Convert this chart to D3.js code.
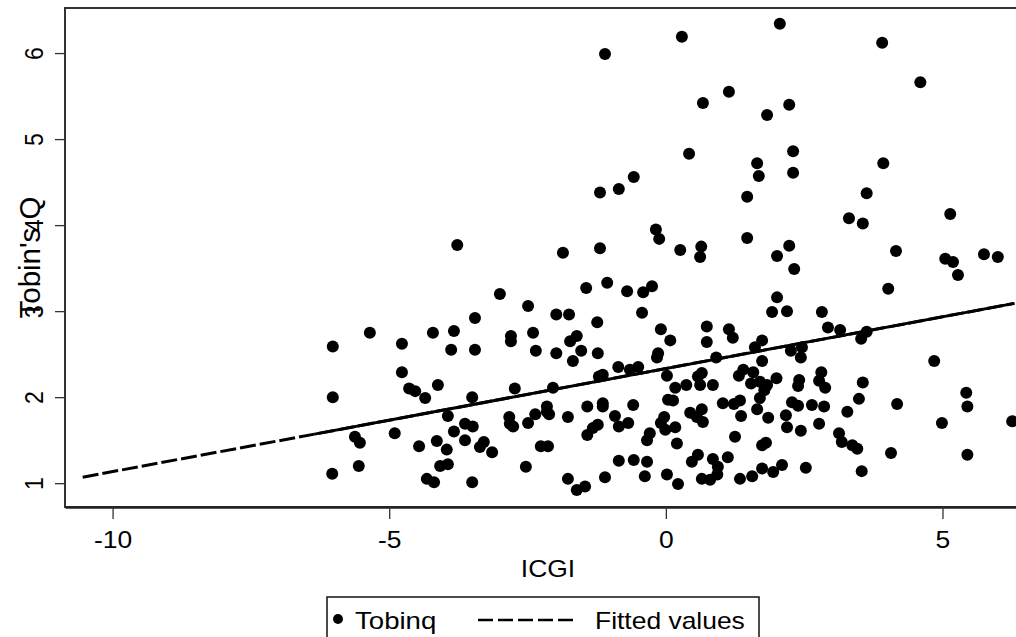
<!DOCTYPE html>
<html>
<head>
<meta charset="utf-8">
<script src="https://cdn.jsdelivr.net/npm/d3@7"></script>
<style>
  body { margin: 0; background: #fff; }
  svg { display: block; font-family: Arial, "Liberation Sans", sans-serif; }
</style>
</head>
<body>
<div id="chart"></div>
<script>
// Scatter data (ICGI, Tobin's Q)
const icgi = [
  -1.10, -3.77, -1.86, -1.19, -1.19, -0.85, -0.58, -0.18, -0.12, 0.29,
  2.06, 3.91, 4.60, 1.14, 0.67, 2.23, 1.83, 0.42, 2.30, 1.65,
  1.68, 2.30, 3.93, 1.47, 3.63, 3.31, 3.56, 5.14, 0.26, 0.64,
  0.62, 1.47, 2.23, 2.01, 4.16, 5.05, 5.19, 5.75, 6.00, -3.00,
  -2.49, -1.44, -1.06, -0.70, -0.41, -0.25, -0.43, -0.09, 0.08, -5.35,
  -4.21, -3.83, -6.02, -4.77, -3.88, -3.45, -3.45, -2.80, -2.80, -2.40,
  -2.35, -1.98, -1.75, -1.24, -1.61, -1.73, -1.53, -1.98, -1.68, -1.23,
  -0.14, -0.16, -0.86, -0.65, -0.50, -1.14, -1.21, 0.02, -4.77, -4.64,
  -4.53, -4.35, -4.12, -6.02, -3.50, -2.73, -2.04, -3.94, -3.63, -3.49,
  -3.83, -2.83, -2.82, -2.76, -2.49, -2.36, -2.15, -2.15, -2.11, -1.77,
  -1.42, -1.14, -1.14, -0.92, -0.85, -0.68, -0.59, -0.03, -0.09, -0.01,
  0.04, -1.23, -1.32, -1.42, -0.29, -0.34, -5.62, -5.53, -4.90, -4.46,
  -4.14, -3.96, -3.63, -3.29, -3.36, -3.14, -2.26, -2.13, -5.55, -4.08,
  -3.94, -2.53, -0.85, -0.58, -0.34, -6.03, -4.32, -4.19, -3.50, -1.77,
  -1.61, -1.46, -1.10, -0.38, 0.02, 2.32, 5.28, 4.02, 2.01, 1.92,
  2.19, 2.82, 0.74, 1.14, 1.21, 0.74, 1.74, 1.61, 2.93, 3.15,
  3.63, 3.53, 2.26, 2.46, 2.44, 0.91, 1.74, 4.85, 0.17, 0.37,
  0.58, 0.65, 0.62, 0.85, 1.32, 1.40, 1.58, 1.54, 1.70, 1.83,
  1.78, 1.70, 2.00, 2.41, 2.39, 2.81, 2.77, 2.88, 3.56, 0.13,
  3.49, 1.03, 1.23, 1.34, 2.28, 2.39, 2.64, 2.86, 3.28, 4.18,
  5.43, 5.45, 0.17, 0.44, 0.65, 0.67, 0.56, 1.36, 1.65, 1.85,
  2.17, 2.19, 2.44, 2.77, 4.99, 6.26, 3.13, 3.18, 3.37, 3.46,
  0.20, 1.25, 1.74, 1.81, 4.07, 5.45, 0.47, 0.58, 0.85, 0.94,
  0.93, 0.80, 0.65, 1.12, 0.22, 1.34, 1.56, 1.74, 1.94, 2.10,
  2.53, 3.54
];
const tobinq = [
  5.99, 3.77, 3.68, 3.73, 4.38, 4.42, 4.56, 3.95, 3.84, 6.19,
  6.34, 6.12, 5.66, 5.55, 5.42, 5.40, 5.28, 4.83, 4.86, 4.72,
  4.57, 4.61, 4.72, 4.33, 4.37, 4.08, 4.02, 4.13, 3.71, 3.75,
  3.63, 3.85, 3.76, 3.64, 3.70, 3.61, 3.57, 3.66, 3.63, 3.20,
  3.06, 3.27, 3.33, 3.23, 3.22, 3.29, 2.98, 2.79, 2.66, 2.75,
  2.75, 2.77, 2.59, 2.62, 2.55, 2.55, 2.92, 2.71, 2.65, 2.75,
  2.54, 2.96, 2.96, 2.87, 2.71, 2.65, 2.54, 2.51, 2.42, 2.51,
  2.51, 2.46, 2.35, 2.32, 2.35, 2.26, 2.24, 2.25, 2.29, 2.10,
  2.07, 1.99, 2.14, 2.00, 2.00, 2.10, 2.11, 1.78, 1.69, 1.66,
  1.60, 1.77, 1.69, 1.66, 1.70, 1.80, 1.89, 1.83, 1.80, 1.77,
  1.89, 1.93, 1.89, 1.78, 1.66, 1.70, 1.91, 1.77, 1.70, 1.62,
  1.97, 1.68, 1.64, 1.56, 1.58, 1.50, 1.54, 1.47, 1.58, 1.43,
  1.49, 1.39, 1.50, 1.48, 1.42, 1.36, 1.43, 1.43, 1.20, 1.20,
  1.22, 1.19, 1.26, 1.27, 1.25, 1.11, 1.05, 1.01, 1.01, 1.05,
  0.92, 0.96, 1.07, 1.08, 1.10, 3.49, 3.42, 3.26, 3.16, 2.99,
  3.00, 2.99, 2.82, 2.79, 2.69, 2.64, 2.66, 2.58, 2.81, 2.78,
  2.76, 2.68, 2.54, 2.58, 2.46, 2.46, 2.42, 2.42, 2.11, 2.14,
  2.24, 2.28, 2.14, 2.14, 2.25, 2.32, 2.29, 2.16, 2.18, 2.14,
  2.08, 1.99, 2.22, 2.20, 2.13, 2.29, 2.19, 2.11, 2.17, 1.96,
  1.98, 1.93, 1.92, 1.96, 1.94, 1.90, 1.91, 1.89, 1.83, 1.92,
  2.05, 1.89, 1.65, 1.82, 1.86, 1.71, 1.77, 1.78, 1.86, 1.76,
  1.79, 1.65, 1.61, 1.69, 1.70, 1.72, 1.58, 1.48, 1.44, 1.40,
  1.46, 1.54, 1.44, 1.47, 1.35, 1.33, 1.25, 1.33, 1.28, 1.19,
  1.10, 1.04, 1.05, 1.30, 0.99, 1.05, 1.08, 1.17, 1.13, 1.21,
  1.18, 1.14
];

// Fitted values line (dashed where there are no observations)
const fitX = [-10.54, -6.35, 6.30];
const fitY = [1.07, 1.57, 3.09];

const xTicks = [-10, -5, 0, 5];
const yTicks = [1, 2, 3, 4, 5, 6];
const legendLabels = ["Tobinq", "Fitted values"];

// 1) Dimensions
const width = 1016;
const height = 637;
const margin = { top: 8, right: -15, bottom: 130, left: 65 };
const fs = 23;       // font size
const sx = 1.15;     // horizontal stretch of the exported picture

const svg = d3.select("#chart")
  .append("svg")
  .attr("width", width)
  .attr("height", height)
  .style("overflow", "hidden");

// 2) Scales
const x = d3.scaleLinear()
  .domain([-10.86, 6.60])
  .range([margin.left, width - margin.right]);

const y = d3.scaleLinear()
  .domain([0.723, 6.524])
  .range([height - margin.bottom, margin.top]);

// 3) Plot frame
svg.append("rect")
  .attr("x", margin.left)
  .attr("y", margin.top)
  .attr("width", width - margin.right - margin.left)
  .attr("height", height - margin.bottom - margin.top)
  .attr("fill", "none")
  .attr("stroke", "#333")
  .attr("stroke-width", 2);

// 4) Axes
const xAxis = svg.append("g")
  .attr("transform", `translate(0,${height - margin.bottom})`)
  .call(d3.axisBottom(x).tickValues(xTicks).tickSize(12).tickSizeOuter(0).tickFormat((d) => (d < 0 ? "-" + Math.abs(d) : d)));
xAxis.select(".domain").attr("stroke", "#222").attr("stroke-width", 2.5);
xAxis.selectAll(".tick line").attr("stroke", "#333").attr("stroke-width", 1.3);
xAxis.selectAll(".tick text")
  .attr("y", 0).attr("dy", null)
  .attr("transform", `translate(0,41) scale(${sx},1)`)
  .attr("fill", "#000")
  .style("font-size", fs + "px");

const yAxis = svg.append("g")
  .attr("transform", `translate(${margin.left},0)`)
  .call(d3.axisLeft(y).tickValues(yTicks).tickSize(10).tickSizeOuter(0).tickFormat(d3.format("d")));
yAxis.select(".domain").remove();
yAxis.selectAll(".tick line").attr("stroke", "#333").attr("stroke-width", 1.3);
yAxis.selectAll(".tick text")
  .attr("x", 0).attr("dy", null)
  .attr("text-anchor", "middle")
  .attr("transform", `translate(-22,0) scale(${sx},1) rotate(-90)`)
  .attr("fill", "#000")
  .style("font-size", fs + "px");

// 5) Axis titles
svg.append("text")
  .attr("transform", `translate(548,577) scale(${sx},1)`)
  .attr("text-anchor", "middle")
  .style("font-size", fs + "px")
  .text("ICGI");

svg.append("text")
  .attr("transform", `translate(40,${(margin.top + height - margin.bottom) / 2}) scale(${sx},1) rotate(-90)`)
  .attr("text-anchor", "middle")
  .attr("textLength", 122)
  .attr("lengthAdjust", "spacingAndGlyphs")
  .style("font-size", (fs + 3) + "px")
  .text("Tobin's Q");

// 6) Fitted line
const line = d3.line().x((d) => x(d[0])).y((d) => y(d[1]));
const fitPts = fitX.map((v, i) => [v, fitY[i]]);
svg.append("path")
  .attr("d", line(fitPts))
  .attr("fill", "none")
  .attr("stroke", "#000")
  .attr("stroke-width", 3)
  .attr("stroke-dasharray", "16,4");
svg.append("path")
  .attr("d", line(fitPts.slice(1)))
  .attr("fill", "none")
  .attr("stroke", "#000")
  .attr("stroke-width", 3);

// 7) Points
svg.append("g")
  .selectAll("circle")
  .data(icgi.map((v, i) => ({ icgi: v, q: tobinq[i] })))
  .join("circle")
  .attr("cx", (d) => x(d.icgi))
  .attr("cy", (d) => y(d.q))
  .attr("r", 6)
  .attr("fill", "#000");

// 8) Legend
const legend = svg.append("g").attr("transform", "translate(327,597)");
legend.append("rect")
  .attr("width", 432)
  .attr("height", 60)
  .attr("fill", "#fff")
  .attr("stroke", "#111")
  .attr("stroke-width", 1.5);
legend.append("circle").attr("cx", 11).attr("cy", 22).attr("r", 5).attr("fill", "#000");
legend.append("text")
  .attr("transform", `translate(28,32) scale(1.2,1)`)
  .style("font-size", fs + "px")
  .text(legendLabels[0]);
legend.append("line")
  .attr("x1", 151).attr("x2", 248)
  .attr("y1", 23).attr("y2", 23)
  .attr("stroke", "#000")
  .attr("stroke-width", 2.5)
  .attr("stroke-dasharray", "15,5");
legend.append("text")
  .attr("transform", `translate(268,32) scale(${sx},1)`)
  .style("font-size", fs + "px")
  .text(legendLabels[1]);
</script>
</body>
</html>
